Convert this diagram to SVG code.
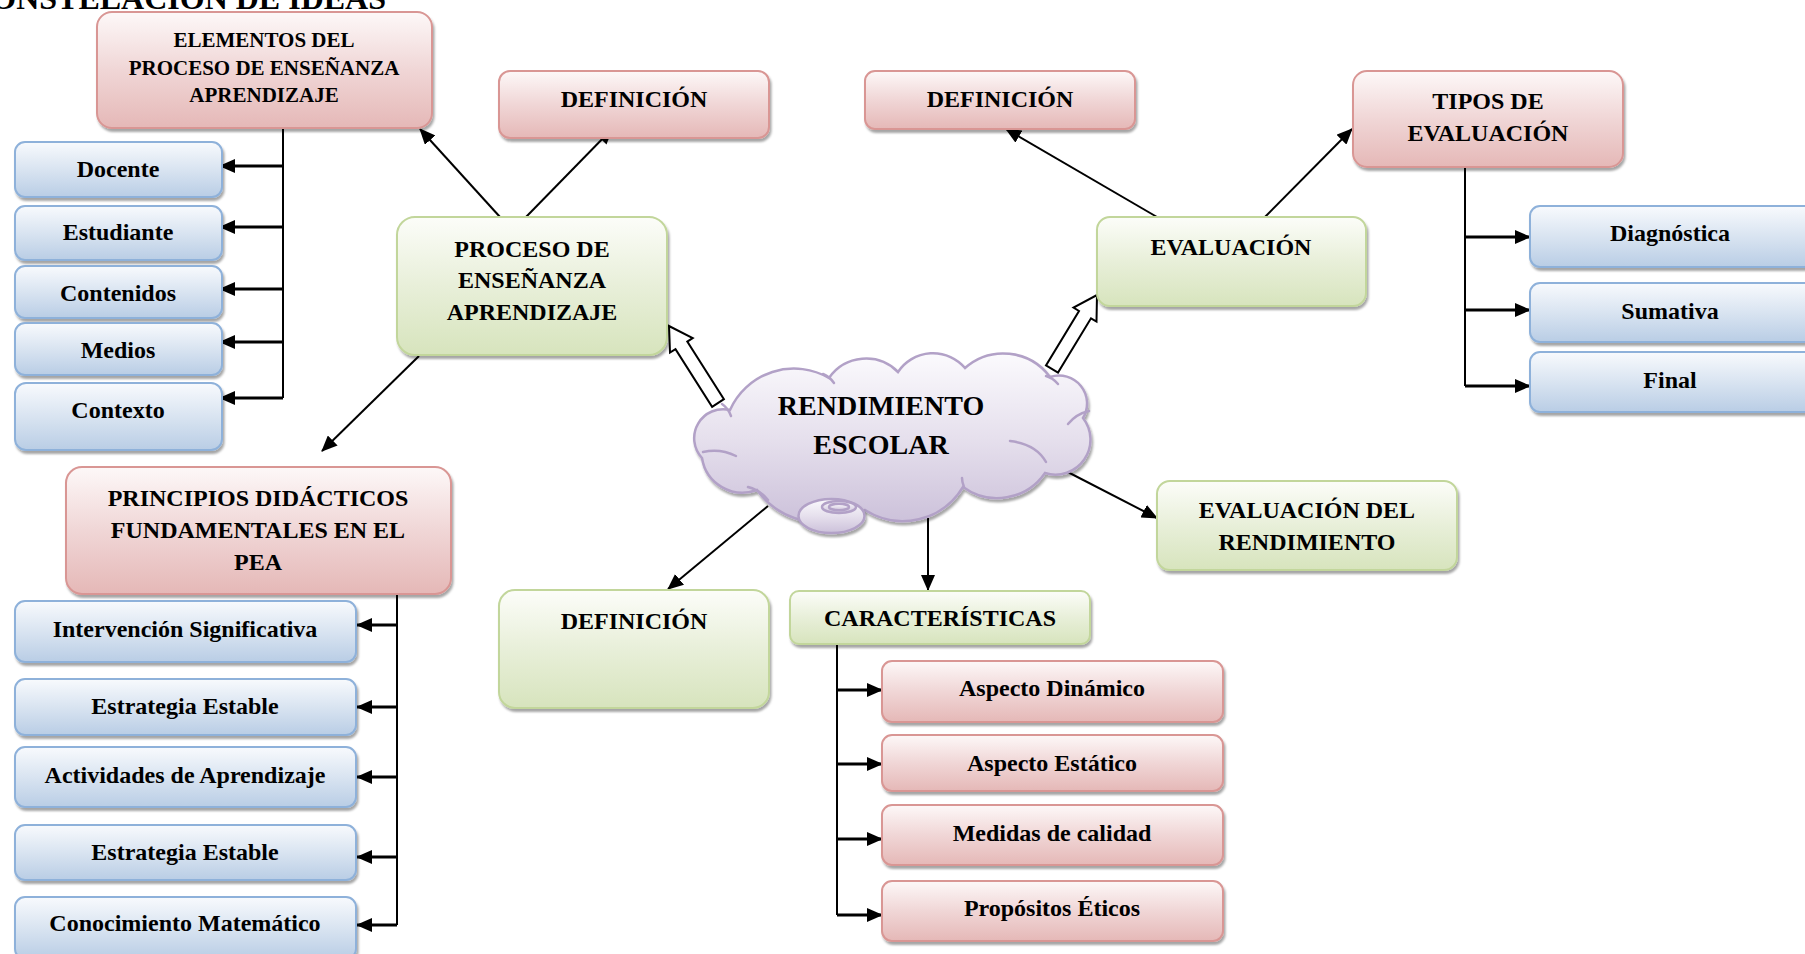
<svg xmlns="http://www.w3.org/2000/svg" width="1805" height="954" viewBox="0 0 1805 954">
  <defs>
    <style>
      .t { font-family: "Liberation Serif", "Times New Roman", serif; font-weight: bold; font-size: 24px; text-anchor: middle; fill: #000; }
      .pk { fill: url(#gPk); stroke: #d99694; stroke-width: 2; filter: url(#sh); }
      .bl { fill: url(#gBl); stroke: #8eb1da; stroke-width: 2; filter: url(#sh); }
      .gr { fill: url(#gGr); stroke: #c2d69b; stroke-width: 2; filter: url(#sh); }
      .pu { fill: url(#gPu); stroke: #b2a1c7; stroke-width: 2.5; }
      .pl { fill: none; stroke: #b2a1c7; stroke-width: 2.5; stroke-linecap: round; }
      .ln { fill: none; stroke: #000; stroke-width: 2; }
      .st { fill: none; stroke: #000; stroke-width: 2.8; }
      .ar { marker-end: url(#ah); }
      .hol { fill: #fff; stroke: #000; stroke-width: 2; stroke-linejoin: miter; }
    </style>
    <linearGradient id="gPk" x1="0" y1="0" x2="0" y2="1">
      <stop offset="0" stop-color="#fdf8f8"/>
      <stop offset="0.5" stop-color="#f0d6d6"/>
      <stop offset="1" stop-color="#e5b8b7"/>
    </linearGradient>
    <linearGradient id="gBl" x1="0" y1="0" x2="0" y2="1">
      <stop offset="0" stop-color="#f8fafd"/>
      <stop offset="0.5" stop-color="#d9e4f1"/>
      <stop offset="1" stop-color="#b9cde5"/>
    </linearGradient>
    <linearGradient id="gGr" x1="0" y1="0" x2="0" y2="1">
      <stop offset="0" stop-color="#fcfdf9"/>
      <stop offset="0.5" stop-color="#e8efd9"/>
      <stop offset="1" stop-color="#d7e4bd"/>
    </linearGradient>
    <linearGradient id="gPu" x1="0" y1="0" x2="0" y2="1">
      <stop offset="0" stop-color="#fbfafd"/>
      <stop offset="0.5" stop-color="#e6e0ed"/>
      <stop offset="1" stop-color="#ccc1da"/>
    </linearGradient>
    <filter id="sh" x="-5%" y="-5%" width="112%" height="120%">
      <feDropShadow dx="1.5" dy="3" stdDeviation="0.9" flood-color="#000" flood-opacity="0.35"/>
    </filter>
    <marker id="ah" markerWidth="16" markerHeight="14" refX="15" refY="7" orient="auto" markerUnits="userSpaceOnUse">
      <path d="M0,0 L16,7 L0,14 z" fill="#000"/>
    </marker>
  </defs>

  <rect width="1805" height="954" fill="#fff"/>

  <!-- heading, partly above the top edge -->
  <text class="t" x="386" y="9" style="text-anchor:end;font-size:32px">CONSTELACIÓN DE IDEAS</text>

  <!-- connectors -->
  <g id="connectors">
    <!-- elementos bracket -->
    <path class="ln" d="M283,128 V398"/>
    <line class="st ar" x1="283" y1="166" x2="220" y2="166"/>
    <line class="st ar" x1="283" y1="227" x2="220" y2="227"/>
    <line class="st ar" x1="283" y1="289" x2="220" y2="289"/>
    <line class="st ar" x1="283" y1="342" x2="220" y2="342"/>
    <line class="st ar" x1="283" y1="398" x2="220" y2="398"/>
    <!-- principios bracket -->
    <path class="ln" d="M397,594 V925"/>
    <line class="st ar" x1="397" y1="625" x2="357" y2="625"/>
    <line class="st ar" x1="397" y1="707" x2="357" y2="707"/>
    <line class="st ar" x1="397" y1="777" x2="357" y2="777"/>
    <line class="st ar" x1="397" y1="857" x2="357" y2="857"/>
    <line class="st ar" x1="397" y1="925" x2="357" y2="925"/>
    <!-- tipos bracket -->
    <path class="ln" d="M1465,167 V386"/>
    <line class="st ar" x1="1465" y1="237" x2="1530" y2="237"/>
    <line class="st ar" x1="1465" y1="310" x2="1530" y2="310"/>
    <line class="st ar" x1="1465" y1="386" x2="1530" y2="386"/>
    <!-- caracteristicas bracket -->
    <path class="ln" d="M837,644 V915"/>
    <line class="st ar" x1="837" y1="690" x2="882" y2="690"/>
    <line class="st ar" x1="837" y1="764" x2="882" y2="764"/>
    <line class="st ar" x1="837" y1="839" x2="882" y2="839"/>
    <line class="st ar" x1="837" y1="915" x2="882" y2="915"/>
    <!-- straight arrows -->
    <line class="ln ar" x1="500" y1="217" x2="420" y2="129"/>
    <line class="ln ar" x1="526" y1="217" x2="612" y2="129"/>
    <line class="ln ar" x1="419" y1="356" x2="322" y2="451"/>
    <line class="ln ar" x1="1157" y1="217" x2="1006" y2="129"/>
    <line class="ln ar" x1="1265" y1="217" x2="1352" y2="129"/>
    <line class="ln ar" x1="768" y1="506" x2="668" y2="589"/>
    <line class="ln ar" x1="928" y1="518" x2="928" y2="590"/>
    <line class="ln ar" x1="1058" y1="467" x2="1157" y2="518"/>
    <!-- hollow block arrows -->
    <polygon class="hol" points="712.1,406.8 723.9,399.2 687.3,341.6 692.7,338.2 669,326 670,352.6 675.5,349.2"/>
    <polygon class="hol" points="1046,365.4 1058,372.6 1091,318.3 1096.5,321.6 1097,295 1073.5,307.6 1079,311"/>
  </g>

  <!-- top row -->
  <g id="elementos">
    <rect class="pk" x="97" y="12" width="335" height="116" rx="15"/>
    <text class="t" x="264" y="47" style="font-size:21px">ELEMENTOS DEL</text>
    <text class="t" x="264" y="75" style="font-size:21px">PROCESO DE ENSEÑANZA</text>
    <text class="t" x="264" y="102" style="font-size:21px">APRENDIZAJE</text>
  </g>
  <g id="definicion-pea">
    <rect class="pk" x="499" y="71" width="270" height="67" rx="11"/>
    <text class="t" x="634" y="107">DEFINICIÓN</text>
  </g>
  <g id="definicion-eval">
    <rect class="pk" x="865" y="71" width="270" height="58" rx="10"/>
    <text class="t" x="1000" y="107">DEFINICIÓN</text>
  </g>
  <g id="tipos">
    <rect class="pk" x="1353" y="71" width="270" height="96" rx="14"/>
    <text class="t" x="1488" y="109">TIPOS DE</text>
    <text class="t" x="1488" y="141">EVALUACIÓN</text>
  </g>

  <!-- elementos children -->
  <g id="docente">
    <rect class="bl" x="15" y="142" width="207" height="55" rx="10"/>
    <text class="t" x="118" y="177">Docente</text>
  </g>
  <g id="estudiante">
    <rect class="bl" x="15" y="206" width="207" height="54" rx="10"/>
    <text class="t" x="118" y="240">Estudiante</text>
  </g>
  <g id="contenidos">
    <rect class="bl" x="15" y="266" width="207" height="52" rx="10"/>
    <text class="t" x="118" y="301">Contenidos</text>
  </g>
  <g id="medios">
    <rect class="bl" x="15" y="323" width="207" height="52" rx="10"/>
    <text class="t" x="118" y="358">Medios</text>
  </g>
  <g id="contexto">
    <rect class="bl" x="15" y="383" width="207" height="67" rx="11"/>
    <text class="t" x="118" y="418">Contexto</text>
  </g>

  <!-- central branches -->
  <g id="proceso">
    <rect class="gr" x="397" y="217" width="270" height="138" rx="18"/>
    <text class="t" x="532" y="257">PROCESO DE</text>
    <text class="t" x="532" y="288">ENSEÑANZA</text>
    <text class="t" x="532" y="320">APRENDIZAJE</text>
  </g>
  <g id="evaluacion">
    <rect class="gr" x="1097" y="217" width="269" height="89" rx="13"/>
    <text class="t" x="1231" y="255">EVALUACIÓN</text>
  </g>

  <!-- tipos children -->
  <g id="diagnostica">
    <rect class="bl" x="1530" y="206" width="290" height="61" rx="10"/>
    <text class="t" x="1670" y="241">Diagnóstica</text>
  </g>
  <g id="sumativa">
    <rect class="bl" x="1530" y="283" width="290" height="59" rx="10"/>
    <text class="t" x="1670" y="319">Sumativa</text>
  </g>
  <g id="final">
    <rect class="bl" x="1530" y="352" width="290" height="60" rx="10"/>
    <text class="t" x="1670" y="388">Final</text>
  </g>

  <!-- central cloud -->
  <g id="rendimiento">
    <g filter="url(#sh)">
      <path class="pu" d="M702,458 A29,29 0 0 1 730,410 A70,70 0 0 1 829,378 A45,45 0 0 1 898,372 A42,42 0 0 1 965,368 A58,58 0 0 1 1050,377 A28,28 0 0 1 1083,418 A35,35 0 0 1 1045,473 A58,58 0 0 1 963,487 A70,70 0 0 1 865,510 A80,80 0 0 1 757,490 A41,41 0 0 1 702,458 Z"/>
    </g>
    <path class="pl" d="M1010,441 Q1036,444 1046,462"/>
    <path class="pl" d="M703,452 Q720,448 736,456"/>
    <path class="pl" d="M1068,424 Q1076,414 1089,411"/>
    <path class="pl" d="M722,404 Q728,408 731,416"/>
    <path class="pl" d="M748,487 Q760,490 768,500"/>
    <path class="pl" d="M823,374 Q830,377 834,383"/>
    <path class="pl" d="M1046,376 Q1053,378 1058,384"/>
    <path class="pl" d="M964,487 Q962,482 962,478"/>
    <g filter="url(#sh)">
      <ellipse class="pu" cx="831.5" cy="516" rx="33" ry="17"/>
    </g>
    <ellipse class="pu" cx="839" cy="507" rx="17" ry="6" stroke-width="2"/>
    <ellipse class="pu" cx="839" cy="507" rx="10" ry="3.2" stroke-width="1.5"/>
    <text class="t" x="881" y="415" style="font-size:28px">RENDIMIENTO</text>
    <text class="t" x="881" y="454" style="font-size:28px">ESCOLAR</text>
  </g>

  <g id="evaluacion-rendimiento">
    <rect class="gr" x="1157" y="481" width="300" height="89" rx="13"/>
    <text class="t" x="1307" y="518">EVALUACIÓN DEL</text>
    <text class="t" x="1307" y="550">RENDIMIENTO</text>
  </g>

  <!-- lower row -->
  <g id="principios">
    <rect class="pk" x="66" y="467" width="385" height="127" rx="16"/>
    <text class="t" x="258" y="506">PRINCIPIOS DIDÁCTICOS</text>
    <text class="t" x="258" y="538">FUNDAMENTALES EN EL</text>
    <text class="t" x="258" y="570">PEA</text>
  </g>
  <g id="definicion-rend">
    <rect class="gr" x="499" y="590" width="270" height="118" rx="16"/>
    <text class="t" x="634" y="629">DEFINICIÓN</text>
  </g>
  <g id="caracteristicas">
    <rect class="gr" x="790" y="591" width="300" height="53" rx="9"/>
    <text class="t" x="940" y="626">CARACTERÍSTICAS</text>
  </g>

  <!-- principios children -->
  <g id="intervencion">
    <rect class="bl" x="15" y="601" width="341" height="61" rx="10"/>
    <text class="t" x="185" y="637">Intervención Significativa</text>
  </g>
  <g id="estrategia-1">
    <rect class="bl" x="15" y="679" width="341" height="56" rx="10"/>
    <text class="t" x="185" y="714">Estrategia Estable</text>
  </g>
  <g id="actividades">
    <rect class="bl" x="15" y="747" width="341" height="60" rx="10"/>
    <text class="t" x="185" y="783">Actividades de Aprendizaje</text>
  </g>
  <g id="estrategia-2">
    <rect class="bl" x="15" y="825" width="341" height="55" rx="10"/>
    <text class="t" x="185" y="860">Estrategia Estable</text>
  </g>
  <g id="conocimiento">
    <rect class="bl" x="15" y="897" width="341" height="62" rx="10"/>
    <text class="t" x="185" y="931">Conocimiento Matemático</text>
  </g>

  <!-- caracteristicas children -->
  <g id="dinamico">
    <rect class="pk" x="882" y="661" width="341" height="61" rx="10"/>
    <text class="t" x="1052" y="696">Aspecto Dinámico</text>
  </g>
  <g id="estatico">
    <rect class="pk" x="882" y="735" width="341" height="56" rx="10"/>
    <text class="t" x="1052" y="771">Aspecto Estático</text>
  </g>
  <g id="medidas">
    <rect class="pk" x="882" y="805" width="341" height="60" rx="10"/>
    <text class="t" x="1052" y="841">Medidas de calidad</text>
  </g>
  <g id="propositos">
    <rect class="pk" x="882" y="881" width="341" height="60" rx="10"/>
    <text class="t" x="1052" y="916">Propósitos Éticos</text>
  </g>
</svg>
